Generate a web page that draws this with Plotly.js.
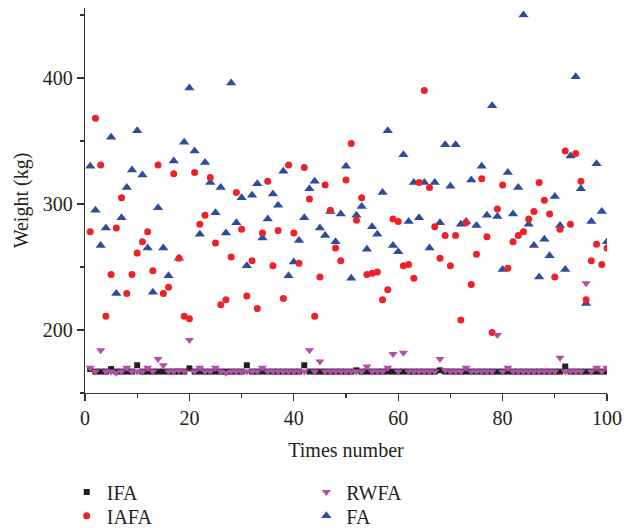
<!DOCTYPE html>
<html>
<head>
<meta charset="utf-8">
<script src="https://cdn.plot.ly/plotly-3.0.1.min.js"></script>
<style>html,body{margin:0;padding:0;background:#fff}#chart{width:624px;height:528px}</style>
</head>
<body>
<div id="chart"></div>
<script>
const times = Array.from({length: 100}, (_, i) => i + 1);

const IFA = [169,167,167,167,169,167,167,167,167,172,
             167,167,167,167,167,167,167,167,167,169.5,
             167,167,167,167,167,167,167,167,167,167,
             172,167,167,167,167,167,167,167,167,167,
             167,172,167,167,167,167,167,167,167,167,
             167,168,167,167,167,167,167,167,167,167,
             167,167,167,167,167,167,167,168,167,167,
             167,167,167,167,167,167,167,167,167,167,
             167,167,167,167,167,167,167,167,167,167,
             167,171,167,167,167,167,167,167,167,167];

const IAFA = [278,368,331,211,244,281,305,229,244,261,
              270,278,247,331,229,234,324,257,211,209,
              325,284,291,321,269,220,224,258,309,280,
              227,255,217,277,318,251,279,225,331,277,
              253,329,304,211,242,315,295,265,255,319,
              348,287,305,244,245,246,224,232,288,286,
              251,252,241,317,390,313,282,257,275,251,
              275,208,285,236,260,320,274,198,296,315,
              249,270,275,278,288,294,317,303,292,242,
              280,342,284,340,318,224,255,268,252,265];

const RWFA = [170,167,184,167,167,166,167,170,167,167,
              167,170,167,177,172,167,167,168,167,192,
              167,170,167,167,170,167,166,167,167,167,
              167,167,167,170,167,167,167,167,167,167,
              167,167,184,167,175,167,167,167,167,167,
              167,167,167,171,167,167,167,170,181,167,
              182,167,167,167,167,167,167,177,168,167,
              167,167,170,167,167,167,167,167,196,167,
              170,167,167,167,167,167,167,167,167,167,
              178,167,167,167,167,237,167,170,167,170];

const FA = [330,295,267,281,353,229,289,313,327,358,
            323,265,230,297,265,243,334,257,349,392,
            342,276,333,317,293,313,277,396,285,305,
            251,307,316,273,288,308,299,326,243,254,
            271,289,312,318,281,275,294,270,292,330,
            241,291,298,264,282,276,309,358,267,262,
            339,286,317,289,317,265,317,285,347,314,
            347,284,286,319,283,330,291,378,290,248,
            325,292,313,450,284,267,242,272,259,306,
            283,248,338,401,312,221,286,332,294,270];

const xTicks = [0, 20, 40, 60, 80, 100];
const yTicks = [200, 300, 400];

const FONT = 'Liberation Serif, Times New Roman, serif';
const TXT = '#231f20';

const traces = [
  {name: 'FA', x: times, y: FA, type: 'scatter', mode: 'markers',
   marker: {symbol: 'triangle-up', size: 9, color: '#2e4c9c'}, legend: 'legend4'},
  {name: 'IAFA', x: times, y: IAFA, type: 'scatter', mode: 'markers',
   marker: {symbol: 'circle', size: 7, color: '#ee2226'}, legend: 'legend2'},
  {name: 'IFA', x: times, y: IFA, type: 'scatter', mode: 'markers',
   marker: {symbol: 'square', size: 6, color: '#231f20'}, legend: 'legend'},
  {name: 'RWFA', x: times, y: RWFA, type: 'scatter', mode: 'markers',
   marker: {symbol: 'triangle-down', size: 8, color: '#b24fa9'}, legend: 'legend3'}
];

const axisCommon = {
  showgrid: false, zeroline: false, showline: true, linecolor: '#333', linewidth: 1.3,
  ticks: 'outside', ticklen: 7, tickwidth: 1.3, tickcolor: '#333',
  tickfont: {family: FONT, size: 20, color: TXT}
};

function leg(x, y) {
  return {x: x, xanchor: 'left', y: y, yanchor: 'middle', orientation: 'v',
          bgcolor: 'rgba(0,0,0,0)', borderwidth: 0,
          font: {family: FONT, size: 20, color: TXT}};
}

const layout = {
  width: 624, height: 528,
  margin: {l: 85, r: 17, t: 8, b: 135, autoexpand: false},
  paper_bgcolor: '#fff', plot_bgcolor: '#fff',
  font: {family: FONT, size: 20, color: TXT},
  xaxis: Object.assign({}, axisCommon, {
    range: [0, 100], tickvals: xTicks, ticktext: xTicks.map(String),
    minor: {dtick: 10, tick0: 0, ticks: 'outside', ticklen: 4, tickwidth: 1.3, tickcolor: '#333', showgrid: false},
    title: {text: 'Times number', font: {family: FONT, size: 20, color: TXT}, standoff: 14}
  }),
  yaxis: Object.assign({}, axisCommon, {
    range: [150, 455.5], tickvals: yTicks, ticktext: yTicks.map(String),
    minor: {dtick: 50, tick0: 0, ticks: 'outside', ticklen: 4, tickwidth: 1.3, tickcolor: '#333', showgrid: false},
    title: {text: 'Weight (kg)', font: {family: FONT, size: 20, color: TXT}, standoff: 8}
  }),
  showlegend: true,
  legend: leg(-0.035, -0.257),
  legend2: leg(-0.035, -0.319),
  legend3: leg(0.424, -0.257),
  legend4: leg(0.424, -0.319)
};

Plotly.newPlot('chart', traces, layout, {displayModeBar: false, staticPlot: true});
</script>
</body>
</html>
